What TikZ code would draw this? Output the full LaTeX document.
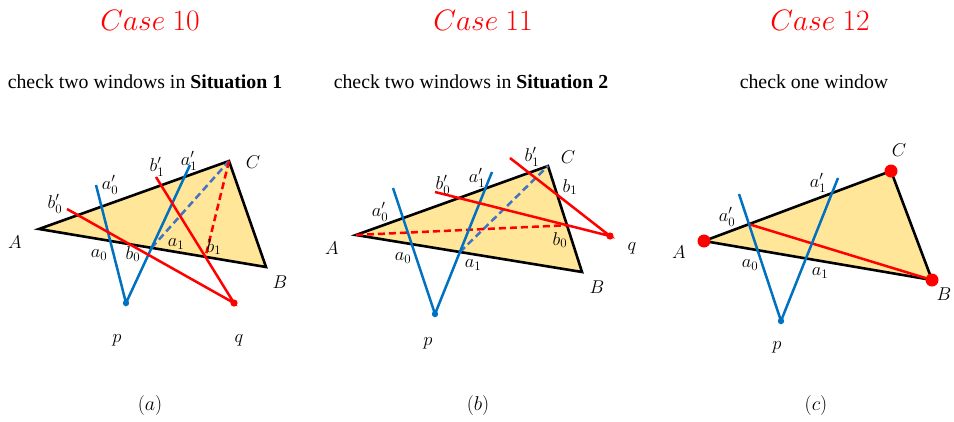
\RequirePackage{fix-cm}
\documentclass[tikz,border=0pt]{standalone}
\usepackage{fontspec}
\setmainfont{Liberation Serif}
\usepackage{xcolor}
\usepackage{tikz}
\definecolor{triyellow}{HTML}{FFE699}
\definecolor{rayblue}{HTML}{0070C0}
\definecolor{dashblue}{HTML}{4472C4}
\definecolor{rayred}{HTML}{FF0000}

\begin{document}
\begin{tikzpicture}[
  x=1pt,y=-1pt,
  tri/.style={draw=black,fill=triyellow,line width=2.6pt,line join=miter},
  blueray/.style={draw=rayblue,line width=2.5pt},
  redray/.style={draw=rayred,line width=2.5pt},
  bluedash/.style={draw=dashblue,line width=2.5pt,dash pattern=on 7pt off 4pt},
  reddash/.style={draw=rayred,line width=2.5pt,dash pattern=on 7pt off 4pt},
  bluedot/.style={fill=rayblue},
  reddot/.style={fill=rayred},
  lbl/.style={inner sep=0pt,font=\fontsize{18.5}{20}\selectfont},
  casetitle/.style={inner sep=0pt,text=rayred,font=\fontsize{29.5}{32}\selectfont},
  subtitle/.style={inner sep=0pt,font=\fontsize{19.8}{22}\selectfont},
  caption/.style={inner sep=0pt,font=\fontsize{20}{22}\selectfont}
]
\useasboundingbox (0,0) rectangle (954,421);

% titles
\node[casetitle] (case10) at (150,20) {$Case\ 10$};
\node[casetitle] (case11) at (483,20) {$Case\ 11$};
\node[casetitle] (case12) at (820,20) {$Case\ 12$};
\node[subtitle] (sub10) at (145,82) {check two windows in \textbf{Situation 1}};
\node[subtitle] (sub11) at (471,82) {check two windows in \textbf{Situation 2}};
\node[subtitle] (sub12) at (814,82) {check one window};

% (a)
\coordinate (Aa) at (39,229);
\coordinate (Ba) at (266,267);
\coordinate (Ca) at (229,161);
\coordinate (pa) at (126,303);
\coordinate (qa) at (234,303);
\coordinate (a0a) at (96,185);
\coordinate (a1a) at (190,165);
\coordinate (b0a) at (67,209);
\coordinate (b1a) at (156,177);
\draw[tri] (Aa) -- (Ba) -- (Ca) -- cycle;
\draw[bluedash] (intersection of Aa--Ba and pa--a1a) -- (Ca);
\draw[reddash] (Ca) -- (intersection of Aa--Ba and qa--b1a);
\draw[blueray] (a0a) -- (pa) -- (a1a);
\draw[redray] (b0a) -- (qa) -- (b1a);
\fill[bluedot] (pa) circle (3.2);
\fill[reddot] (qa) circle (3.6);
\node[lbl] (lAa) at (15,242) {$A$};
\node[lbl] (lBa) at (280,282) {$B$};
\node[lbl] (lCa) at (253,162) {$C$};
\node[lbl] (lpa) at (117,340) {$p$};
\node[lbl] (lqa) at (239,340) {$q$};
\node[lbl] (la0pa) at (110,185) {$a_0'$};
\node[lbl] (la1pa) at (189,161) {$a_1'$};
\node[lbl] (lb0pa) at (55,204) {$b_0'$};
\node[lbl] (lb1pa) at (157,167) {$b_1'$};
\node[lbl] (la0a) at (99,255) {$a_0$};
\node[lbl] (lb0a) at (133,254) {$b_0$};
\node[lbl] (la1a) at (176,244) {$a_1$};
\node[lbl] (lb1a) at (214,247) {$b_1$};
\node[caption] (capa) at (150,405) {$(a)$};

% (b)
\coordinate (Ab) at (356,235);
\coordinate (Bb) at (582,272);
\coordinate (Cb) at (548,166);
\coordinate (pb) at (435,314);
\coordinate (qb) at (610,236);
\coordinate (a0b) at (393,188);
\coordinate (a1b) at (492,172);
\coordinate (b0b) at (435,192);
\coordinate (b1b) at (510,158);
\draw[tri] (Ab) -- (Bb) -- (Cb) -- cycle;
\draw[bluedash] (intersection of Ab--Bb and pb--a1b) -- (Cb);
\draw[reddash] (Ab) -- (intersection of Bb--Cb and qb--b0b);
\draw[blueray] (a0b) -- (pb) -- (a1b);
\draw[redray] (b0b) -- (qb) -- (b1b);
\fill[bluedot] (pb) circle (3.2);
\fill[reddot] (qb) circle (3.6);
\node[lbl] (lAb) at (332,248) {$A$};
\node[lbl] (lBb) at (597,287) {$B$};
\node[lbl] (lCb) at (568,157) {$C$};
\node[lbl] (lpb) at (428,343) {$p$};
\node[lbl] (lqb) at (632,248) {$q$};
\node[lbl] (la0pb) at (380,212) {$a_0'$};
\node[lbl] (la1pb) at (477,178) {$a_1'$};
\node[lbl] (lb0pb) at (443,185) {$b_0'$};
\node[lbl] (lb1pb) at (532,157) {$b_1'$};
\node[lbl] (la0b) at (403,258) {$a_0$};
\node[lbl] (la1b) at (473,265) {$a_1$};
\node[lbl] (lb0b) at (560,240) {$b_0$};
\node[lbl] (lb1b) at (570,187) {$b_1$};
\node[caption] (capb) at (478,405) {$(b)$};

% (c)
\coordinate (Ac) at (704,241);
\coordinate (Bc) at (932,280);
\coordinate (Cc) at (891,171);
\coordinate (pc) at (781,321);
\coordinate (a0c) at (739,194);
\coordinate (a1c) at (838,178);
\draw[tri] (Ac) -- (Bc) -- (Cc) -- cycle;
\draw[redray] (intersection of Ac--Cc and pc--a0c) -- (Bc);
\draw[blueray] (a0c) -- (pc) -- (a1c);
\fill[bluedot] (pc) circle (3.2);
\foreach \v in {Ac,Bc,Cc}
  \fill[reddot] (\v) circle (6.5);
\node[lbl] (lAc) at (679,252) {$A$};
\node[lbl] (lBc) at (944,294) {$B$};
\node[lbl] (lCc) at (899,150) {$C$};
\node[lbl] (lpc) at (777,347) {$p$};
\node[lbl] (la0pc) at (727,217) {$a_0'$};
\node[lbl] (la1pc) at (818,183) {$a_1'$};
\node[lbl] (la0c) at (750,265) {$a_0$};
\node[lbl] (la1c) at (820,273) {$a_1$};
\node[caption] (capc) at (816,405) {$(c)$};
\end{tikzpicture}
\end{document}
